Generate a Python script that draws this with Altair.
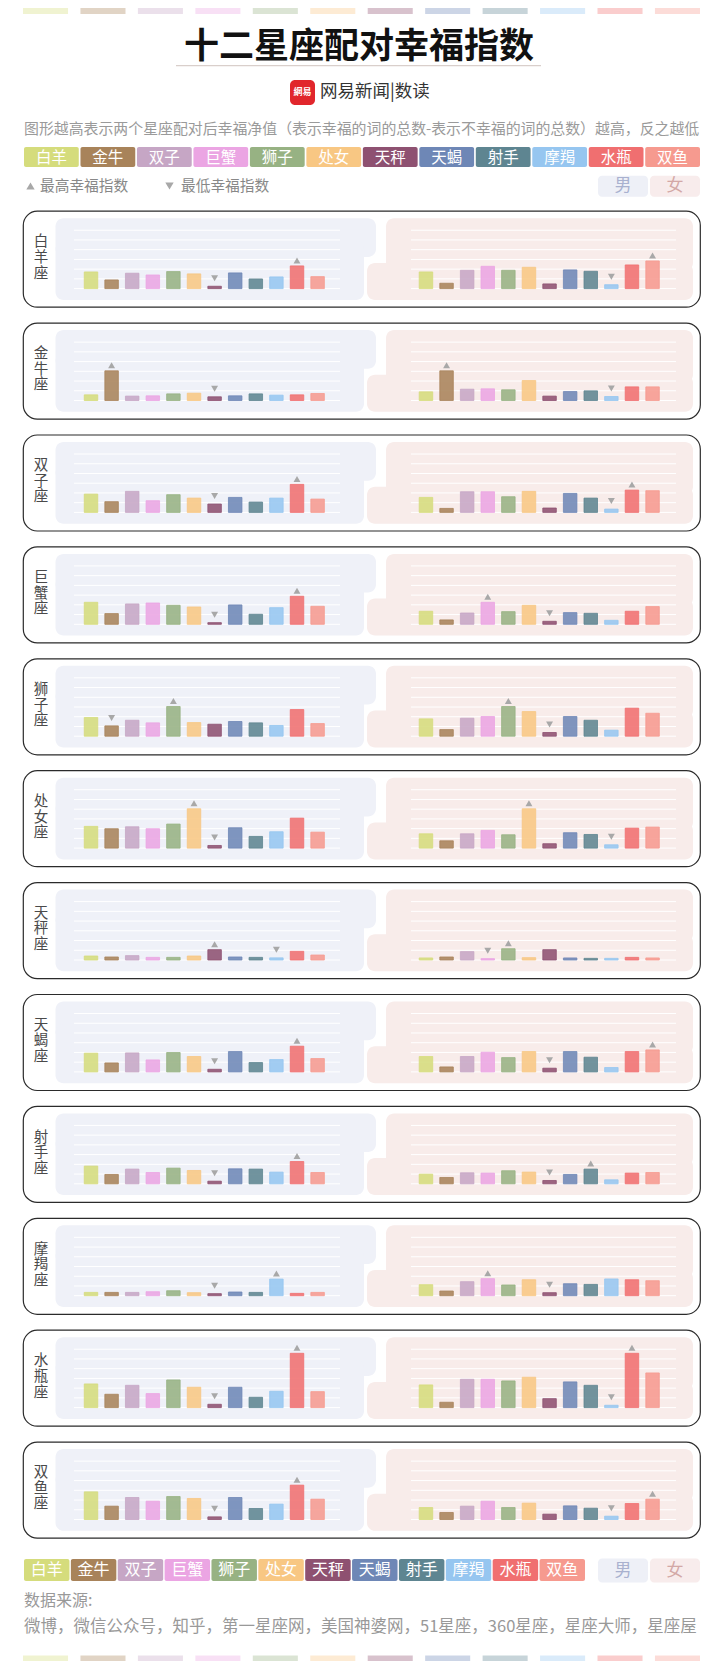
import altair as alt
import pandas as pd

FONT = "Noto Sans CJK SC"

ZODIACS = ["白羊", "金牛", "双子", "巨蟹", "狮子", "处女", "天秤", "天蝎", "射手", "摩羯", "水瓶", "双鱼"]
COLORS = ["#d5dc7c", "#a8835a", "#c6a6c5", "#eba5e3", "#97b283", "#f8c783",
          "#8e5171", "#6e87b6", "#5e8591", "#96c6f0", "#f06f70", "#f69a8f"]

# happiness index (in grid units) of each pairing: male / female of the row sign with each partner sign
aries_male = [1.71, 0.89, 1.58, 1.40, 1.75, 1.51, 0.24, 1.61, 0.99, 1.20, 2.33, 1.23]
aries_female = [1.71, 0.55, 1.88, 2.29, 1.88, 2.19, 0.48, 1.92, 1.78, 0.40, 2.43, 2.84]
taurus_male = [0.58, 3.05, 0.45, 0.48, 0.68, 0.75, 0.38, 0.48, 0.68, 0.55, 0.58, 0.72]
taurus_female = [0.89, 3.05, 1.16, 1.20, 1.10, 2.05, 0.45, 0.92, 0.99, 0.41, 1.40, 1.40]
gemini_male = [1.88, 1.10, 2.16, 1.20, 1.82, 1.47, 0.86, 1.54, 1.06, 1.47, 2.88, 1.37]
gemini_female = [1.54, 0.41, 2.12, 2.12, 1.61, 2.16, 0.45, 1.95, 1.47, 0.34, 2.29, 2.23]
cancer_male = [2.26, 1.10, 2.09, 2.19, 1.95, 1.78, 0.17, 1.99, 1.03, 1.71, 2.88, 1.85]
cancer_female = [1.34, 0.45, 1.16, 2.26, 1.30, 1.95, 0.31, 1.20, 1.13, 0.41, 1.34, 1.82]
leo_male = [1.92, 1.06, 1.64, 1.37, 3.05, 1.40, 1.23, 1.51, 1.37, 1.10, 2.74, 1.30]
leo_female = [1.78, 0.68, 1.85, 2.02, 3.05, 2.53, 0.38, 2.02, 1.64, 0.62, 2.88, 2.36]
virgo_male = [2.23, 1.99, 2.19, 1.99, 2.47, 4.04, 0.27, 2.09, 1.20, 1.68, 3.08, 1.64]
virgo_female = [1.47, 0.75, 1.47, 1.82, 1.37, 4.04, 0.45, 1.58, 1.40, 0.34, 2.05, 2.16]
libra_male = [0.41, 0.31, 0.45, 0.27, 0.27, 0.41, 1.06, 0.31, 0.27, 0.22, 0.89, 0.51]
libra_female = [0.21, 0.31, 0.86, 0.14, 1.16, 0.24, 1.06, 0.21, 0.17, 0.17, 0.27, 0.21]
scorpio_male = [1.92, 0.92, 1.95, 1.23, 1.99, 1.58, 0.27, 2.09, 0.96, 1.27, 2.64, 1.37]
scorpio_female = [1.58, 0.51, 1.58, 2.02, 1.47, 2.09, 0.38, 2.09, 1.51, 0.45, 2.09, 2.26]
sagittarius_male = [1.82, 0.96, 1.51, 1.16, 1.61, 1.37, 0.27, 1.54, 1.51, 1.20, 2.29, 1.16]
sagittarius_female = [0.99, 0.65, 1.13, 1.10, 1.34, 1.20, 0.34, 0.96, 1.51, 0.41, 1.10, 1.16]
capricorn_male = [0.34, 0.34, 0.34, 0.41, 0.51, 0.31, 0.21, 0.38, 0.34, 1.71, 0.24, 0.34]
capricorn_female = [1.13, 0.48, 1.44, 1.75, 1.10, 1.64, 0.31, 1.23, 1.16, 1.72, 1.64, 1.54]
aquarius_male = [2.43, 1.37, 2.29, 1.44, 2.84, 2.09, 0.34, 2.09, 1.06, 1.68, 5.58, 1.64]
aquarius_female = [2.33, 0.55, 2.91, 2.91, 2.74, 3.12, 0.92, 2.64, 2.29, 0.24, 5.58, 3.56]
pisces_male = [2.84, 1.37, 2.26, 1.88, 2.36, 2.16, 0.27, 2.26, 1.13, 1.58, 3.53, 2.09]
pisces_female = [1.23, 0.72, 1.37, 1.88, 1.23, 1.68, 0.55, 1.40, 1.16, 0.34, 1.64, 2.09]

ROWS = [
    ("白羊座", aries_male, aries_female),
    ("金牛座", taurus_male, taurus_female),
    ("双子座", gemini_male, gemini_female),
    ("巨蟹座", cancer_male, cancer_female),
    ("狮子座", leo_male, leo_female),
    ("处女座", virgo_male, virgo_female),
    ("天秤座", libra_male, libra_female),
    ("天蝎座", scorpio_male, scorpio_female),
    ("射手座", sagittarius_male, sagittarius_female),
    ("摩羯座", capricorn_male, capricorn_female),
    ("水瓶座", aquarius_male, aquarius_female),
    ("双鱼座", pisces_male, pisces_female),
]
GRID_VALUES = [0, 1, 2, 3, 4, 5, 6]

TITLE = "十二星座配对幸福指数"
SUBTITLE = "图形越高表示两个星座配对后幸福净值（表示幸福的词的总数-表示不幸福的词的总数）越高，反之越低"
SOURCE = "微博，微信公众号，知乎，第一星座网，美国神婆网，51星座，360星座，星座大师，星座屋"

# ---------------- layout ----------------
W = 677
ROW_H = 96
ROW_GAP = 15.9
HEAD_H = 202 - ROW_GAP
FOOT_H = 108.2
BASE_PY = 77.7      # baseline, px from row top
GRID_PX = 9.73      # px per value unit
SLOT_PX = 20.6      # px per slot
SLOT0_PX = 68       # px of first male bar centre
FEMALE_OFFSET = 16.26


def sx(px):
    return (px - SLOT0_PX) / SLOT_PX


def vy(py):
    return (BASE_PY - py) / GRID_PX


X_DOMAIN = [sx(0), sx(W)]
Y_DOMAIN = [vy(ROW_H), vy(0)]
color_scale = alt.Scale(domain=ZODIACS, range=COLORS)
one = pd.DataFrame({"k": [0]})
zdf = pd.DataFrame({"zodiac": ZODIACS})

MALE_BG = "#eff1f8"
FEMALE_BG = "#f8ecea"
panel_df = pd.DataFrame({
    "x": [sx(32.5), sx(32.5), sx(363), sx(344)],
    "x2": [sx(353), sx(341), sx(670), sx(670)],
    "y": [vy(7.3), vy(30), vy(7.3), vy(52)],
    "y2": [vy(46), vy(89), vy(60), vy(89)],
    "bg": [MALE_BG, MALE_BG, FEMALE_BG, FEMALE_BG],
})
grid_rows = []
for g in GRID_VALUES:
    grid_rows.append({"gx": sx(51), "gx2": sx(317), "gy": g})
    grid_rows.append({"gx": sx(388), "gx2": sx(653), "gy": g})
grid_df = pd.DataFrame(grid_rows)


def row_chart(name, male, female):
    xs = alt.Scale(domain=X_DOMAIN, nice=False, zero=False, padding=0)
    ys = alt.Scale(domain=Y_DOMAIN, nice=False, zero=False, padding=0)
    df = pd.DataFrame({
        "partner": ZODIACS * 2,
        "sex": ["男"] * 12 + ["女"] * 12,
        "slot": list(range(12)) + [i + FEMALE_OFFSET for i in range(12)],
        "value": list(male) + list(female),
    })
    panels = alt.Chart(panel_df).mark_rect(cornerRadius=8).encode(
        x=alt.X("x:Q", scale=xs, axis=None), x2="x2:Q",
        y=alt.Y("y:Q", scale=ys, axis=None), y2="y2:Q",
        color=alt.Color("bg:N", scale=None, legend=None),
    )
    grid = alt.Chart(grid_df).mark_rule(color="white", strokeWidth=1).encode(
        x=alt.X("gx:Q", scale=xs, axis=None), x2="gx2:Q",
        y=alt.Y("gy:Q", scale=ys, axis=None),
    )
    bars = alt.Chart(df).mark_bar(size=13.5, fillOpacity=0.88, strokeWidth=0.8).encode(
        x=alt.X("slot:Q", scale=xs, axis=None),
        y=alt.Y("value:Q", scale=ys, axis=None), y2=alt.datum(0),
        color=alt.Color("partner:N", scale=color_scale, legend=None),
        stroke=alt.Stroke("partner:N", scale=color_scale, legend=None),
    )
    ups = alt.Chart(df).transform_joinaggregate(
        vmax="max(value)", groupby=["sex"]
    ).transform_filter("datum.value == datum.vmax").mark_point(
        shape="triangle-up", filled=True, size=48, color="#a8a8a8", opacity=1, yOffset=-5.5
    ).encode(x=alt.X("slot:Q", scale=xs, axis=None), y=alt.Y("value:Q", scale=ys, axis=None))
    downs = alt.Chart(df).transform_joinaggregate(
        vmin="min(value)", groupby=["sex"]
    ).transform_filter("datum.value == datum.vmin").mark_point(
        shape="triangle-down", filled=True, size=48, color="#a8a8a8", opacity=1, yOffset=-8
    ).encode(x=alt.X("slot:Q", scale=xs, axis=None), y=alt.Y("value:Q", scale=ys, axis=None))
    label = alt.Chart(pd.DataFrame({"lx": [sx(18)], "ly": [vy(31.5)], "t": ["\n".join(name)]})).mark_text(
        font=FONT, fontSize=14.5, color="#4a4a4a", lineBreak="\n", lineHeight=15.6, baseline="middle"
    ).encode(x=alt.X("lx:Q", scale=xs, axis=None), y=alt.Y("ly:Q", scale=ys, axis=None), text="t:N")
    return alt.layer(panels, grid, bars, ups, downs, label).properties(
        width=W, height=ROW_H,
        view=alt.ViewBackground(stroke="#2b2b2b", strokeWidth=1.2, cornerRadius=14, fill="white"),
    )


def band(rng, pad):
    return alt.Scale(type="band", domain=ZODIACS, range=rng, paddingInner=pad, paddingOuter=0)


def strip_layer(y0, y1):
    return alt.Chart(zdf).mark_rect(opacity=0.35).encode(
        x=alt.X("zodiac:N", scale=band([0, W], 0.216), axis=None),
        y=alt.value(y0), y2=alt.value(y1),
        color=alt.Color("zodiac:N", scale=color_scale, legend=None),
    )


def chip_layers(rng, y0, y1, fs):
    rect = alt.Chart(zdf).mark_rect(cornerRadius=2).encode(
        x=alt.X("zodiac:N", scale=band(rng, 0.03), axis=None),
        y=alt.value(y0), y2=alt.value(y1),
        color=alt.Color("zodiac:N", scale=color_scale, legend=None),
    )
    txt = alt.Chart(zdf).mark_text(font=FONT, fontSize=fs, color="white", baseline="middle").encode(
        x=alt.X("zodiac:N", scale=band(rng, 0.03), axis=None),
        y=alt.value((y0 + y1) / 2 + 0.5),
        text="zodiac:N",
    )
    return [rect, txt]


def text_layer(t, x, y, size, color, align="left", weight="normal"):
    return alt.Chart(one).mark_text(
        text=t, font=FONT, fontSize=size, color=color, align=align, baseline="middle", fontWeight=weight
    ).encode(x=alt.value(x), y=alt.value(y))


def box_layer(x0, x1, y0, y1, fill, radius=4):
    return alt.Chart(one).mark_rect(color=fill, cornerRadius=radius).encode(
        x=alt.value(x0), x2=alt.value(x1), y=alt.value(y0), y2=alt.value(y1)
    )


def sex_chips(y0, y1):
    return [
        box_layer(575, 625, y0, y1, "#eef0f7"),
        box_layer(627, 677, y0, y1, "#f8ecec"),
        text_layer("男", 600, (y0 + y1) / 2, 17, "#a9b1cf", align="center"),
        text_layer("女", 652, (y0 + y1) / 2, 17, "#d3a8a6", align="center"),
    ]


header_layers = [strip_layer(0, 6)]
header_layers += [
    text_layer(TITLE, 336, 39, 35, "#111111", align="center", weight="bold"),
    alt.Chart(one).mark_rule(color="#d9cfcb", strokeWidth=1.2).encode(
        x=alt.value(153), x2=alt.value(518), y=alt.value(57.7)),
    box_layer(267, 292, 72, 97, "#e1262c", radius=5),
    text_layer("網易", 279.5, 83.5, 9, "white", align="center", weight="bold"),
    text_layer("网易新闻|数读", 297, 84, 17.5, "#333333"),
    text_layer(SUBTITLE, 1, 122, 14.9, "#9a9a9a"),
]
header_layers += chip_layers([1, W], 139, 159, 15.5)
header_layers += [
    alt.Chart(one).mark_point(shape="triangle-up", filled=True, size=70, color="#a8a8a8", opacity=1).encode(
        x=alt.value(7.5), y=alt.value(178)),
    text_layer("最高幸福指数", 17, 178.7, 14.7, "#888888"),
    alt.Chart(one).mark_point(shape="triangle-down", filled=True, size=70, color="#a8a8a8", opacity=1).encode(
        x=alt.value(146.5), y=alt.value(178)),
    text_layer("最低幸福指数", 158, 178.7, 14.7, "#888888"),
]
header_layers += sex_chips(167.7, 188.7)
header = alt.layer(*header_layers).resolve_scale(x="independent").properties(width=W, height=HEAD_H)

footer_layers = chip_layers([1, 562], 5.2, 27.2, 16)
footer_layers += sex_chips(4.9, 28.9)
footer_layers += [
    text_layer("数据来源:", 1, 47.2, 16, "#999999"),
    text_layer(SOURCE, 1, 73.2, 16.5, "#999999"),
    strip_layer(101.7, FOOT_H),
]
footer = alt.layer(*footer_layers).resolve_scale(x="independent").properties(width=W, height=FOOT_H)

rows = [row_chart(n, m, f) for n, m, f in ROWS]

chart = alt.vconcat(header, *rows, footer, spacing=ROW_GAP, bounds="flush").properties(
    padding={"left": 14, "top": 0, "right": 0, "bottom": 0},
    background="white",
).configure_view(strokeWidth=0)

chart.save("out.html", embed_options={"renderer": "svg", "actions": False})
